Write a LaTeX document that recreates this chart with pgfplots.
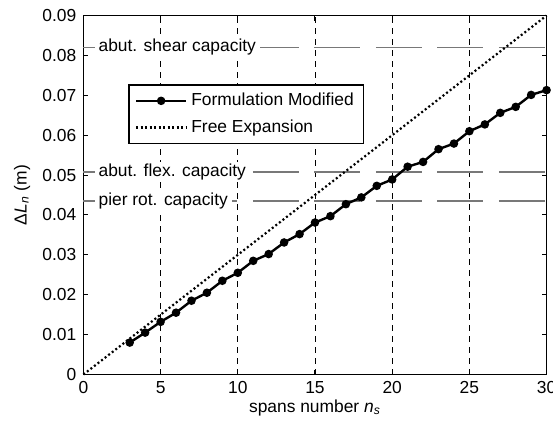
\documentclass[border=0pt]{standalone}
\usepackage{pgfplots}
\pgfplotsset{compat=1.18}
\usepackage{fontspec}
\setmainfont{Liberation Sans}
\definecolor{capgray}{RGB}{120,120,120}

\begin{document}
\begin{tikzpicture}[font=\fontsize{8.7}{10.4}\selectfont]
% fixed page frame: axis box sits at the origin
\path[use as bounding box] (-41.7pt,-25.25pt) rectangle (234.8pt,187.25pt);
\begin{axis}[
    scale only axis,
    width=231.6pt, height=179.5pt,
    xmin=0, xmax=30, ymin=0, ymax=0.09,
    xtick={0,5,...,30},
    ytick={0,0.01,...,0.09},
    scaled y ticks=false,
    yticklabel style={/pgf/number format/.cd, fixed, precision=2},
    /pgf/number format/assume math mode=true,
    tick align=inside,
    major tick length=2.5pt,
    tick style={black, line width=0.5pt},
    axis line style={line width=0.6pt},
    xmajorgrids,
    major grid style={black, line width=0.45pt, dash pattern=on 3pt off 2.5pt},
    clip=false,
    xlabel={spans number \textit{n}\textsubscript{\textit{s}}},
    ylabel={Δ\textit{L}\textsubscript{\textit{n}} (m)},
    xlabel style={at={(axis description cs:0.5,-0.093)}, anchor=center},
    ylabel style={at={(axis description cs:-0.1325,0.5)}, anchor=center},
    legend cell align=left,
    legend style={at={(0.097,0.808)}, anchor=north west,
        draw=black, line width=0.6pt, fill=white,
        inner xsep=3pt, inner ysep=2pt, row sep=1.5pt},
    legend image code/.code={%
        \draw[mark repeat=2, mark phase=2] plot coordinates {(0pt,0pt) (12.5pt,0pt) (25pt,0pt)};},
]
% capacity levels
\addplot[capgray, line width=0.75pt, dash pattern=on 23pt off 7.75pt, dash phase=7.5pt, forget plot]
    coordinates {(0,0.082) (30,0.082)};
\addplot[capgray, line width=0.75pt, dash pattern=on 23pt off 7.75pt, dash phase=7.5pt, forget plot]
    coordinates {(0,0.0508) (30,0.0508)};
\addplot[capgray, line width=0.75pt, dash pattern=on 23pt off 7.75pt, dash phase=7.5pt, forget plot]
    coordinates {(0,0.0435) (30,0.0435)};

\addplot[black, line width=1.2pt, mark=*, mark size=1.5pt] coordinates {
    (3,0.0080) (4,0.0105) (5,0.0132) (6,0.0155) (7,0.0185) (8,0.0205)
    (9,0.0235) (10,0.0255) (11,0.0285) (12,0.0302) (13,0.0331) (14,0.0352)
    (15,0.0381) (16,0.0397) (17,0.0427) (18,0.0444) (19,0.0473) (20,0.0489)
    (21,0.0521) (22,0.0533) (23,0.0565) (24,0.0579) (25,0.0610) (26,0.0627)
    (27,0.0656) (28,0.0671) (29,0.0701) (30,0.0713)};
\addplot[black, line width=1.1pt, dash pattern=on 1pt off 1.25pt] coordinates {(0,0) (30,0.09)};

\legend{Formulation Modified, Free Expansion}

\node[anchor=west, fill=white, inner xsep=2pt, inner ysep=1pt] at (axis cs:0.7,0.082) {abut. shear capacity};
\node[anchor=west, fill=white, inner xsep=2pt, inner ysep=1pt] at (axis cs:0.7,0.0508) {abut. flex. capacity};
\node[anchor=west, fill=white, inner xsep=2pt, inner ysep=1pt] at (axis cs:0.7,0.0435) {pier rot. capacity};
\end{axis}
\end{tikzpicture}
\end{document}
